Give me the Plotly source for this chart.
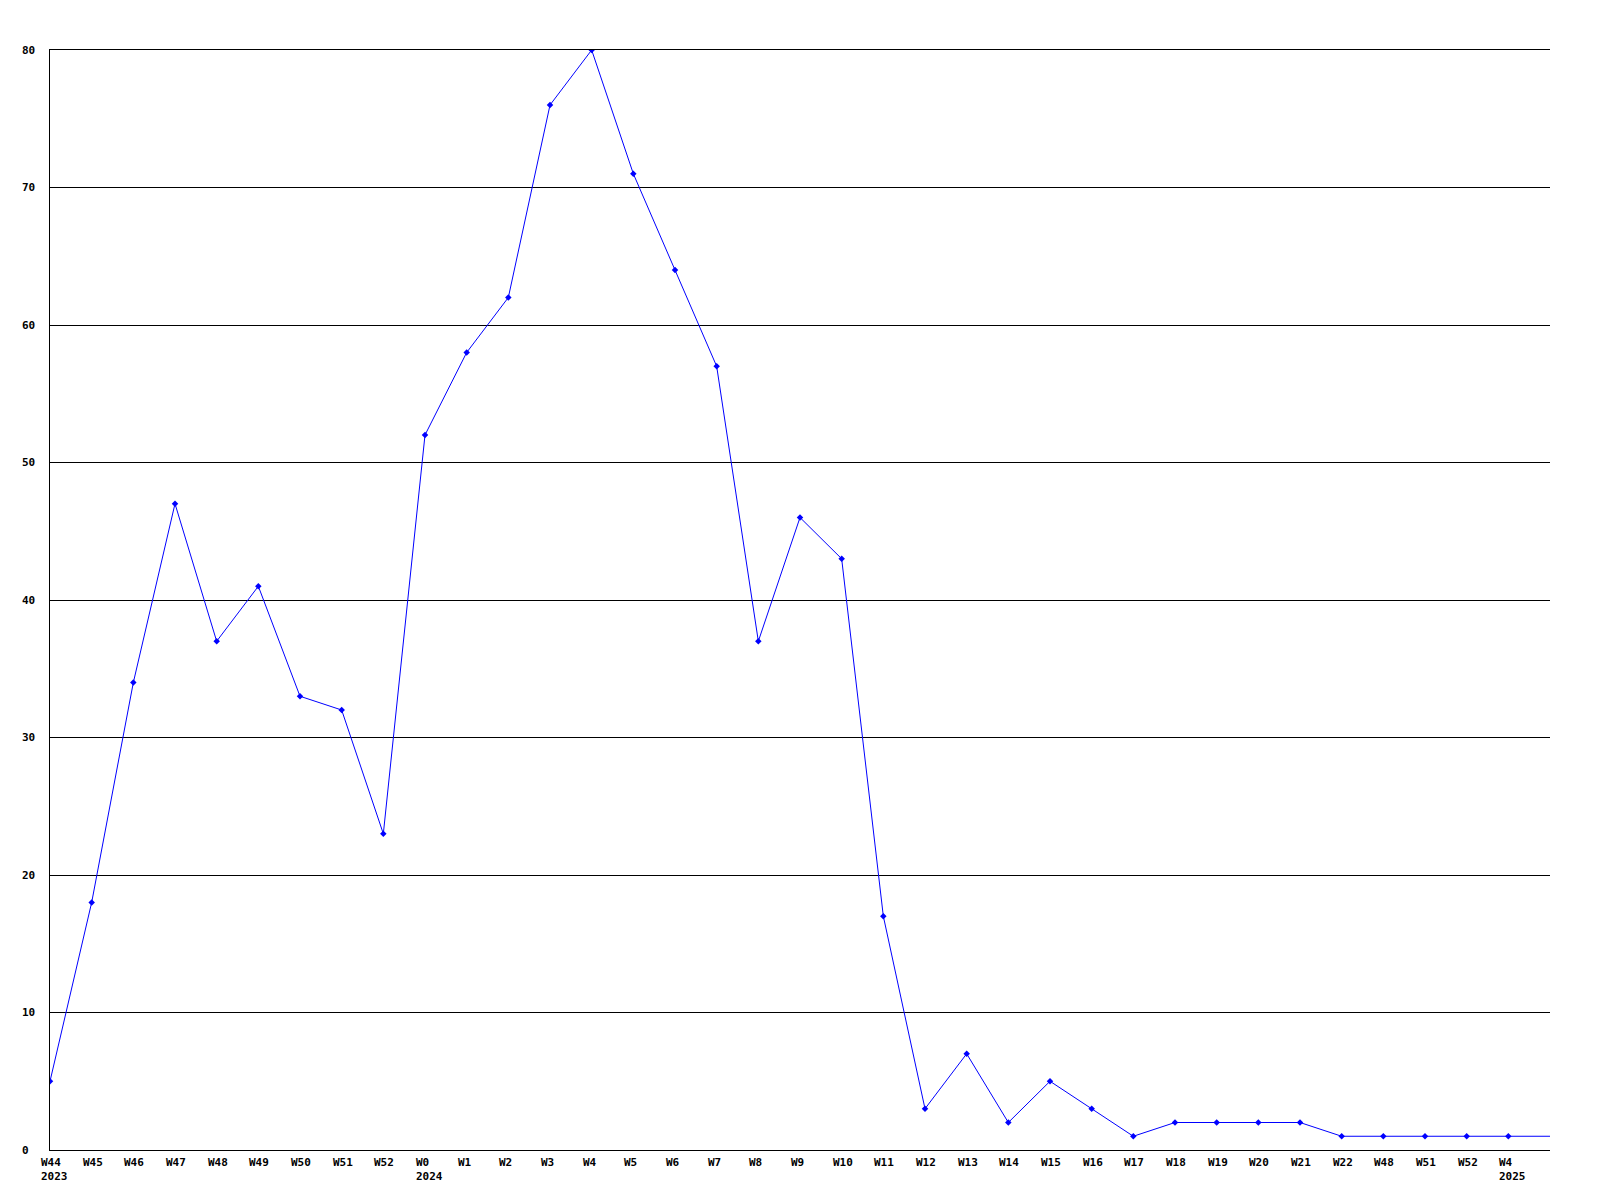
import plotly.graph_objects as go

# weekly counts
weeks = ["W44", "W45", "W46", "W47", "W48", "W49", "W50", "W51", "W52",
         "W0", "W1", "W2", "W3", "W4", "W5", "W6", "W7", "W8", "W9", "W10",
         "W11", "W12", "W13", "W14", "W15", "W16", "W17", "W18", "W19", "W20",
         "W21", "W22", "W48", "W51", "W52", "W4"]
counts = [5, 18, 34, 47, 37, 41, 33, 32, 23,
          52, 58, 62, 76, 80, 71, 64, 57, 37, 46, 43,
          17, 3, 7, 2, 5, 3, 1, 2, 2, 2,
          2, 1, 1, 1, 1, 1]
# the line runs on flat to the right edge
tail_count = 1
years = {0: "2023", 9: "2024", 35: "2025"}
y_ticks = [0, 10, 20, 30, 40, 50, 60, 70, 80]

idx = list(range(len(weeks)))
line_x = idx + [len(weeks)]
line_y = counts + [tail_count]

font = dict(family="DejaVu Sans Mono", size=11, color="black")

fig = go.Figure()
fig.add_trace(go.Scatter(x=line_x, y=line_y, mode="lines",
                         line=dict(color="#0000ff", width=1), hoverinfo="skip"))
fig.add_trace(go.Scatter(x=idx, y=counts, mode="markers",
                         marker=dict(symbol="diamond", size=5, color="#0000ff"),
                         text=weeks))

annotations = []
for i, w in enumerate(weeks):
    label = "<b>" + w + "</b>"
    if i in years:
        label += "<br><b>" + years[i] + "</b>"
    annotations.append(dict(x=i, y=0, xref="x", yref="y", text=label,
                            showarrow=False, xanchor="left", yanchor="top",
                            xshift=-11, yshift=-4, align="left", font=font))
# y labels sit left-aligned at pixel 20 (plot starts at 50, 1500 wide)
for v in y_ticks:
    annotations.append(dict(x=(20 - 50) / 1500, y=v, xref="paper", yref="y",
                            text="<b>" + str(v) + "</b>", showarrow=False,
                            xanchor="left", yanchor="middle", font=font))

# page body has an 8px margin, so shrink the figure to keep the plot in place
fig.update_layout(
    width=1584, height=1184,
    margin=dict(l=42, r=42, t=42, b=42),
    plot_bgcolor="white", paper_bgcolor="white",
    showlegend=False,
    annotations=annotations,
    xaxis=dict(range=[0, len(weeks)], showgrid=False, zeroline=False,
               showticklabels=False, showline=True, linecolor="black",
               linewidth=1, ticks="", mirror=True),
    yaxis=dict(range=[0, 80], tickvals=y_ticks, showticklabels=False,
               showgrid=True, gridcolor="black", gridwidth=1,
               zeroline=False, showline=True, linecolor="black",
               linewidth=1, ticks=""),
)

fig.write_html("out.html")
